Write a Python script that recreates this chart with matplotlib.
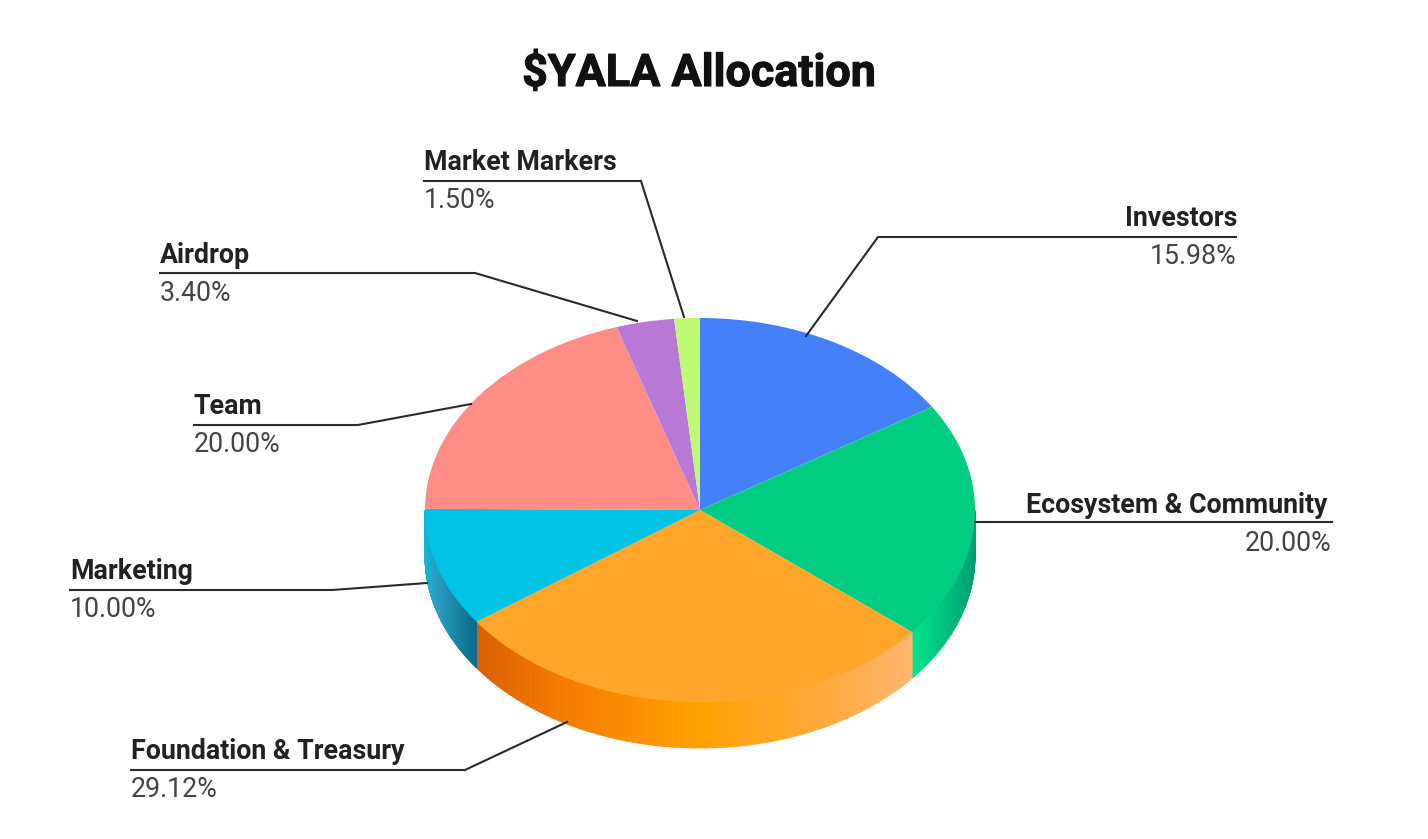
import matplotlib
matplotlib.use("Agg")
import matplotlib.patheffects as pe
import matplotlib.pyplot as plt
import numpy as np
from matplotlib.colors import LinearSegmentedColormap

plt.rcParams["font.family"] = ["Roboto", "DejaVu Sans"]

labels = ["Investors", "Ecosystem & Community", "Foundation & Treasury", "Marketing",
          "Team", "Airdrop", "Market Markers"]
values = [15.98, 20.00, 29.12, 10.00, 20.00, 3.40, 1.50]
top_colors = ["#4580fb", "#00cd82", "#ffa62b", "#00c3e5", "#ff8c85", "#b878d6", "#bdfb73"]

# pie geometry in pixels
W, H = 1428, 839
CX, CY, RX, RY, DEPTH = 700, 510, 275, 192, 46

# side wall gradients, left to right along the x extent of each visible slice
wall_colors = {
    "Marketing": [(0.0, "#12b4d8"), (0.2, "#2a9fc2"), (1.0, "#0a6a88")],
    "Foundation & Treasury": [(0.0, "#d95f00"), (0.2, "#f57c00"), (0.52, "#ffa200"),
                              (0.75, "#ffa733"), (1.0, "#ffb56b")],
    "Ecosystem & Community": [(0.0, "#00e68c"), (1.0, "#009e70")],
}

# label layout: text x, percent x, title baseline, align, leader line
label_layout = {
    "Investors": (1237, 1236, 226, "right", [(1236, 237), (878, 237), (806, 336)]),
    "Ecosystem & Community": (1327, 1331, 513, "right", [(1332, 522), (975, 522)]),
    "Foundation & Treasury": (131, 131, 759, "left", [(131, 770), (465, 770), (567, 722)]),
    "Marketing": (70, 70, 579, "left", [(70, 590), (332, 590), (427, 583)]),
    "Team": (194, 194, 414, "left", [(194, 425), (358, 425), (471, 404)]),
    "Airdrop": (160, 160, 263, "left", [(160, 273), (475, 273), (637, 321)]),
    "Market Markers": (424, 424, 170, "left", [(424, 181), (641, 181), (684, 317)]),
}

fig = plt.figure(figsize=(W / 100, H / 100), dpi=100)
ax = fig.add_axes([0, 0, 1, 1])
ax.set_xlim(0, W)
ax.set_ylim(H, 0)
ax.axis("off")

# side wall, built as thin strips below the top ellipse
edges = np.cumsum([0] + values) / 100 * 360
for i, name in enumerate(labels):
    if name not in wall_colors:
        continue
    a0, a1 = max(edges[i], 90), min(edges[i + 1], 270)
    x_a = CX + RX * np.sin(np.radians([a0, a1]))
    x_lo, x_hi = x_a.min(), x_a.max()
    if name == "Ecosystem & Community":
        x_hi = CX + RX
    if name == "Marketing":
        x_lo = CX - RX
    cmap = LinearSegmentedColormap.from_list(name, wall_colors[name])
    angles = np.linspace(edges[i], edges[i + 1], 240)
    angles = angles[(angles >= 90) & (angles <= 270)]
    for b0, b1 in zip(angles[:-1], angles[1:]):
        xs = CX + RX * np.sin(np.radians([b0, b1]))
        ys = CY - RY * np.cos(np.radians([b0, b1]))
        c = cmap((xs.mean() - x_lo) / (x_hi - x_lo))
        ax.fill([xs[0], xs[1], xs[1], xs[0]],
                [ys[0], ys[1], ys[1] + DEPTH, ys[0] + DEPTH],
                color=c, lw=0.6, zorder=1)

# top face
pie_ax = fig.add_axes([(CX - RX) / W, 1 - (CY + RY) / H, 2 * RX / W, 2 * RY / H], zorder=2)
pie_ax.patch.set_alpha(0)
pie_ax.pie(values, colors=top_colors, startangle=90, counterclock=False, radius=1,
           wedgeprops={"linewidth": 0})
pie_ax.set_aspect("auto")
pie_ax.set_xlim(-1, 1)
pie_ax.set_ylim(-1, 1)

# leader lines and labels, on top of the pie
lab_ax = fig.add_axes([0, 0, 1, 1], zorder=3)
lab_ax.set_xlim(0, W)
lab_ax.set_ylim(H, 0)
lab_ax.axis("off")
for name, val in zip(labels, values):
    x, xp, y, ha, line = label_layout[name]
    lab_ax.plot(*zip(*line), color="#2a2a2a", lw=1.5, solid_joinstyle="miter")
    lab_ax.text(x, y, name, ha=ha, va="baseline", fontsize=19.3, fontweight="bold", color="#222222")
    lab_ax.text(xp, y + 38, f"{val:.2f}%", ha=ha, va="baseline", fontsize=19.3, color="#444444")

title = lab_ax.text(699, 86, "$YALA Allocation", ha="center", va="baseline", fontsize=32.3,
                    fontweight="bold", color="#111111", parse_math=False)
title.set_path_effects([pe.withStroke(linewidth=0.8, foreground="#111111")])

fig.savefig("out.png", dpi=100, facecolor="white")
